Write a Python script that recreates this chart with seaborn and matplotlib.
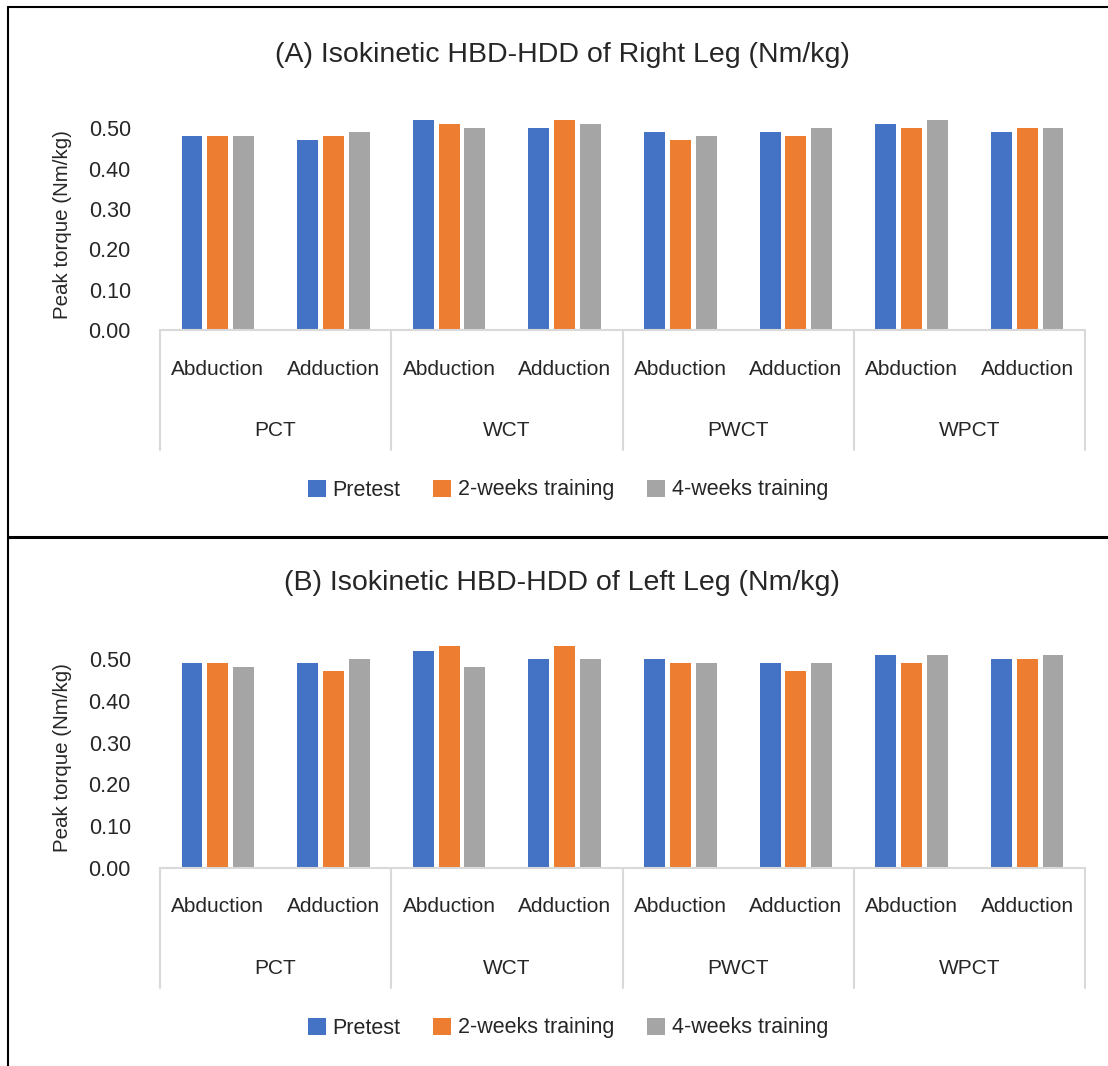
import numpy as np
import pandas as pd
import matplotlib
matplotlib.use("Agg")
import matplotlib.pyplot as plt
from matplotlib.lines import Line2D
from matplotlib.patches import Patch
import seaborn as sns

groups = ["PCT", "WCT", "PWCT", "WPCT"]
movements = ["Abduction", "Adduction"]
phases = ["Pretest", "2-weeks training", "4-weeks training"]
colors = ["#4472C4", "#ED7D31", "#A5A5A5"]

# order: PCT Abd, PCT Add, WCT Abd, WCT Add, PWCT Abd, PWCT Add, WPCT Abd, WPCT Add
right_pretest = [0.48, 0.47, 0.52, 0.50, 0.49, 0.49, 0.51, 0.49]
right_2weeks = [0.48, 0.48, 0.51, 0.52, 0.47, 0.48, 0.50, 0.50]
right_4weeks = [0.48, 0.49, 0.50, 0.51, 0.48, 0.50, 0.52, 0.50]

left_pretest = [0.49, 0.49, 0.52, 0.50, 0.50, 0.49, 0.51, 0.50]
left_2weeks = [0.49, 0.47, 0.53, 0.53, 0.49, 0.47, 0.49, 0.50]
left_4weeks = [0.48, 0.50, 0.48, 0.50, 0.49, 0.49, 0.51, 0.51]

W, H = 1108, 1066


def make_table(s1, s2, s3):
    keys = [g + " " + m for g in groups for m in movements]
    rows = []
    for phase, vals in zip(phases, [s1, s2, s3]):
        for k, v in zip(keys, vals):
            rows.append({"cat": k, "phase": phase, "value": v})
    return pd.DataFrame(rows), keys


def panel(fig, rect, t, keys, titlu, title_y, ylabel_y, legend_y):
    ax = fig.add_axes(rect)
    sns.barplot(data=t, x="cat", y="value", hue="phase", order=keys,
                hue_order=phases, palette=colors, saturation=1, width=0.67, gap=0.19,
                errorbar=None, legend=False, linewidth=0, ax=ax)
    ax.set_xlim(-0.5, len(keys) - 0.5)
    ax.set_ylim(0, 0.55)
    ax.set_yticks(np.arange(0, 0.51, 0.1))
    ax.set_yticklabels(["%.2f" % v for v in np.arange(0, 0.51, 0.1)])
    ax.tick_params(axis="y", length=0, pad=21, labelsize=15.5)
    ax.set_xticks([])
    ax.set_xlabel("")
    ax.set_ylabel("")
    for s in ax.spines.values():
        s.set_visible(False)

    ax_px = rect[3] * H
    gray = "#d9d9d9"
    ax.plot([-0.5, len(keys) - 0.5], [0, 0], color=gray, lw=1.5,
            transform=ax.get_xaxis_transform(), clip_on=False)
    for i in range(len(groups) + 1):
        x = -0.5 + 2 * i
        ax.plot([x, x], [0, -120 / ax_px], color=gray, lw=1.5,
                transform=ax.get_xaxis_transform(), clip_on=False)
    for i in range(len(keys)):
        ax.annotate(movements[i % 2], xy=(i, 0), xycoords=("data", "axes fraction"),
                    xytext=(0, -39), textcoords="offset pixels",
                    ha="center", va="center", fontsize=15)
    for i, g in enumerate(groups):
        ax.annotate(g, xy=(2 * i + 0.5, 0), xycoords=("data", "axes fraction"),
                    xytext=(0, -100), textcoords="offset pixels",
                    ha="center", va="center", fontsize=15)

    fig.text(562 / W, 1 - title_y / H, titlu, ha="center", va="center", fontsize=20.5)
    fig.text(62 / W, 1 - ylabel_y / H, "Peak torque (Nm/kg)", rotation=90,
             ha="center", va="center", fontsize=14.8)

    handles = [Patch(facecolor=c, edgecolor="none") for c in colors]
    fig.legend(handles, phases, loc="center", bbox_to_anchor=(568 / W, 1 - legend_y / H),
               ncol=3, frameon=False, fontsize=15.5, handlelength=0.84, handleheight=0.84,
               handletextpad=0.33, columnspacing=1.5)
    return ax


sns.set_theme(style="white")
plt.rcParams["font.family"] = ["Liberation Sans", "DejaVu Sans"]

fig = plt.figure(figsize=(W / 100, H / 100), dpi=100)
fig.patch.set_facecolor("white")

t_right, keys = make_table(right_pretest, right_2weeks, right_4weeks)
t_left, _ = make_table(left_pretest, left_2weeks, left_4weeks)

panel(fig, [160 / W, 1 - 330 / H, 925 / W, 222 / H], t_right, keys,
      "(A) Isokinetic HBD-HDD of Right Leg (Nm/kg)", 55, 225, 490)
panel(fig, [160 / W, 1 - 868 / H, 925 / W, 230 / H], t_left, keys,
      "(B) Isokinetic HBD-HDD of Left Leg (Nm/kg)", 583, 758, 1028)

# panel borders
fig.add_artist(Line2D([8 / W, 8 / W], [0, 1 - 7 / H], transform=fig.transFigure,
                      color="black", lw=1.5))
fig.add_artist(Line2D([8 / W, 1], [1 - 7 / H, 1 - 7 / H], transform=fig.transFigure,
                      color="black", lw=1.5))
fig.add_artist(Line2D([8 / W, 1], [1 - 537 / H, 1 - 537 / H], transform=fig.transFigure,
                      color="black", lw=2.2))

fig.savefig("out.png", dpi=100)
